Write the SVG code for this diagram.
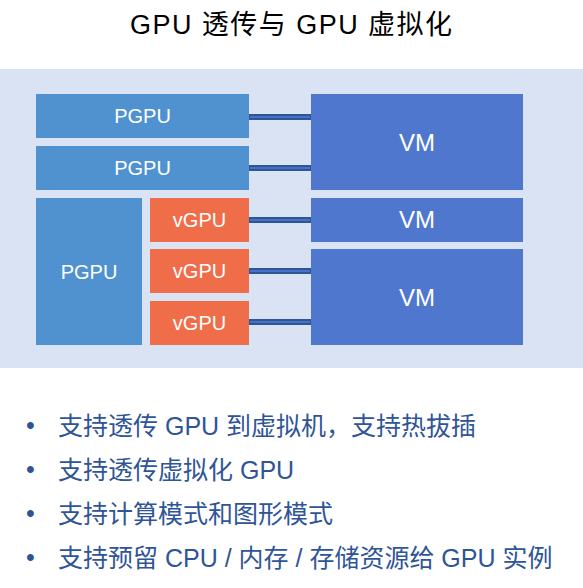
<svg xmlns="http://www.w3.org/2000/svg" width="583" height="588" viewBox="0 0 583 588">
<style>
.pg{fill:#4f92cf}
.vg{fill:#f06d4a}
.vm{fill:#5077ce}
.lb{font-family:"Liberation Sans","Noto Sans CJK SC",sans-serif;fill:#ffffff;text-anchor:middle}
.cn{fill:#4472c4;stroke:#2f5597;stroke-width:2}
.bt{font-family:"Liberation Sans","Noto Sans CJK SC",sans-serif;font-size:25px;fill:#2f5597}
</style>
<rect x="0" y="0" width="583" height="588" fill="#ffffff"/>
<text x="291" y="34" font-family="Liberation Sans, Noto Sans CJK SC, sans-serif" font-size="27" fill="#000000" text-anchor="middle" textLength="322" lengthAdjust="spacing">GPU 透传与 GPU 虚拟化</text>
<rect id="panel" x="0" y="69" width="583" height="299" fill="#dae3f3"/>
<g id="connectors">
<rect class="cn" x="249" y="115" width="62" height="4"/>
<rect class="cn" x="249" y="166" width="62" height="4"/>
<rect class="cn" x="249" y="218" width="62" height="4"/>
<rect class="cn" x="249" y="269" width="62" height="4"/>
<rect class="cn" x="249" y="320" width="62" height="4"/>
</g>
<g id="pgpu1"><rect class="pg" x="36" y="94" width="213" height="44"/><text class="lb" x="142.5" y="123" font-size="20">PGPU</text></g>
<g id="pgpu2"><rect class="pg" x="36" y="146" width="213" height="44"/><text class="lb" x="142.5" y="175" font-size="20">PGPU</text></g>
<g id="pgpu3"><rect class="pg" x="36" y="198" width="106" height="147"/><text class="lb" x="89" y="279" font-size="20">PGPU</text></g>
<g id="vgpu1"><rect class="vg" x="150" y="198" width="99" height="44"/><text class="lb" x="199.5" y="227" font-size="20">vGPU</text></g>
<g id="vgpu2"><rect class="vg" x="150" y="249" width="99" height="44"/><text class="lb" x="199.5" y="278" font-size="20">vGPU</text></g>
<g id="vgpu3"><rect class="vg" x="150" y="301" width="99" height="44"/><text class="lb" x="199.5" y="330" font-size="20">vGPU</text></g>
<g id="vm1"><rect class="vm" x="311" y="94" width="212" height="96"/><text class="lb" x="417" y="151" font-size="24">VM</text></g>
<g id="vm2"><rect class="vm" x="311" y="198" width="212" height="44"/><text class="lb" x="417" y="228" font-size="24">VM</text></g>
<g id="vm3"><rect class="vm" x="311" y="249" width="212" height="96"/><text class="lb" x="417" y="306" font-size="24">VM</text></g>
<g id="bullets">
<text class="bt" x="26" y="434">•</text>
<text class="bt" x="58" y="435">支持透传 GPU 到虚拟机，支持热拔插</text>
<text class="bt" x="26" y="478">•</text>
<text class="bt" x="58" y="479">支持透传虚拟化 GPU</text>
<text class="bt" x="26" y="522">•</text>
<text class="bt" x="58" y="523">支持计算模式和图形模式</text>
<text class="bt" x="26" y="566">•</text>
<text class="bt" x="58" y="567">支持预留 CPU / 内存 / 存储资源给 GPU 实例</text>
</g>
</svg>
